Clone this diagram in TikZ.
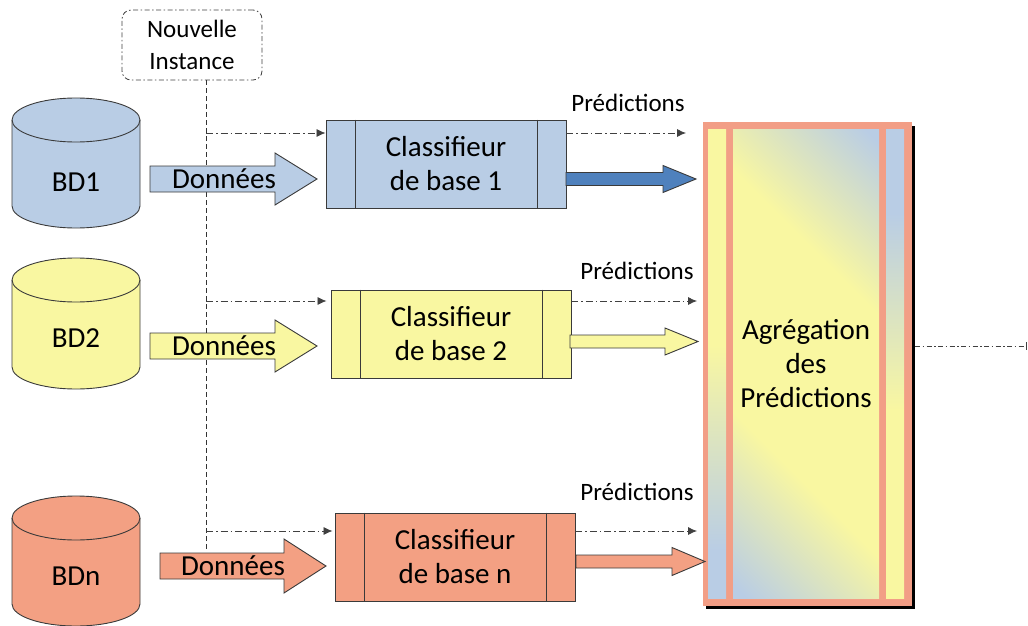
\documentclass[tikz,border=0pt]{standalone}
\usepackage{fontspec}
\setmainfont{Carlito}
\usetikzlibrary{arrows.meta,calc}

\definecolor{bdblue}{HTML}{B9CDE5}
\definecolor{bdyellow}{HTML}{F9F7A1}
\definecolor{bdsalmon}{HTML}{F3A083}
\definecolor{predblue}{HTML}{4F81BD}
\definecolor{edgegray}{HTML}{3A3A3A}
\definecolor{aggborder}{HTML}{F29E86}

% shadings of the aggregation block (the path box spans 25bp..75bp)
\pgfdeclareverticalshading{aggmain}{100bp}{color(0bp)=(bdblue); color(16bp)=(bdblue);
  color(36bp)=(bdyellow); color(64bp)=(bdyellow); color(84bp)=(bdblue); color(100bp)=(bdblue)}
\pgfdeclareverticalshading{aggleft}{100bp}{color(0bp)=(bdblue); color(30bp)=(bdblue);
  color(52bp)=(bdyellow); color(100bp)=(bdyellow)}
\pgfdeclareverticalshading{aggright}{100bp}{color(0bp)=(bdyellow); color(45bp)=(bdyellow);
  color(66bp)=(bdblue); color(100bp)=(bdblue)}

% database cylinder: top ellipse centre y, bottom ellipse centre y, fill colour
\newcommand{\dbcyl}[3]{%
  \fill[#3] (12,#1) -- (12,#2) arc[start angle=180,end angle=0,x radius=64,y radius=22]
    -- (140,#1) arc[start angle=0,end angle=-180,x radius=64,y radius=22] -- cycle;
  \draw[outline] (12,#1) -- (12,#2) arc[start angle=180,end angle=0,x radius=64,y radius=22] -- (140,#1);
  \draw[outline] (76,#1) ellipse[x radius=64,y radius=22];
}
% block arrow: start x, tip x, centre y, shaft half height, head half height, head length, style
\newcommand{\blockarrow}[7]{%
  \draw[#7] (#1,#3-#4) -- (#2-#6,#3-#4) -- (#2-#6,#3-#5) -- (#2,#3)
    -- (#2-#6,#3+#5) -- (#2-#6,#3+#4) -- (#1,#3+#4) -- cycle;
}

\tikzset{
  outline/.style={draw=edgegray, line width=0.9pt},
  txt/.style={font=\fontsize{29}{34}\selectfont, inner sep=0pt, align=center},
  predlabel/.style={font=\fontsize{25}{30}\selectfont, inner sep=0pt},
  classbox/.style={outline, minimum width=240pt, minimum height=88pt, inner sep=0pt,
    font=\fontsize{29}{34}\selectfont, align=center},
  flow/.style={draw=black!75, line width=0.8pt,
    dash pattern=on 7pt off 3pt on 1.5pt off 3pt,
    -{Latex[length=9pt,width=8pt]}},
  feed/.style={draw=black!80, line width=0.8pt, dash pattern=on 5pt off 3pt},
}

\begin{document}
\begin{tikzpicture}[x=1pt,y=-1pt]
\useasboundingbox (0,0) rectangle (1028,626);

% ---- new instance and its feed line
\node[draw=black!75, line width=0.8pt, dash pattern=on 5pt off 2.5pt on 1.5pt off 2.5pt,
  rounded corners=9pt, minimum width=140pt, minimum height=70pt, inner sep=0pt,
  align=center, font=\fontsize{25}{32}\selectfont] (inst) at (192,45) {Nouvelle\\Instance};
\coordinate (feedend) at (206,552);
\draw[feed] (inst.south -| feedend) -- (feedend);
\coordinate (f1) at (206,133);
\coordinate (f2) at (206,301);
\coordinate (f3) at (206,531);

% ---- databases
\dbcyl{120}{206}{bdblue}
\dbcyl{280}{367}{bdyellow}
\dbcyl{518}{604}{bdsalmon}
\node[txt] (bd1) at (76,182) {BD1};
\node[txt] (bd2) at (76,338) {BD2};
\node[txt] (bdn) at (76,576) {BDn};

% ---- base classifiers
\node[classbox, fill=bdblue]   (c1) at (446,164) {Classifieur\\de base 1};
\node[classbox, fill=bdyellow] (c2) at (451,334) {Classifieur\\de base 2};
\node[classbox, fill=bdsalmon] (c3) at (455,557) {Classifieur\\de base n};
\foreach \c in {c1,c2,c3}{
  \draw[outline] ([xshift=30pt]\c.north west) -- ([xshift=30pt]\c.south west);
  \draw[outline] ([xshift=-29pt]\c.north east) -- ([xshift=-29pt]\c.south east);
}

% ---- data arrows
\blockarrow{150}{317}{179}{13}{26}{42}{outline, fill=bdblue}
\blockarrow{150}{317}{346}{13}{26}{42}{outline, fill=bdyellow}
\blockarrow{160}{326}{566}{13}{27}{42}{outline, fill=bdsalmon}
\node[txt] (d1) at (224,179) {Données};
\node[txt] (d2) at (224,346) {Données};
\node[txt] (d3) at (233,566) {Données};

% ---- instance to classifiers
\draw[flow] (f1) -- (f1 -| c1.west);
\draw[flow] (f2) -- ([xshift=-4pt]f2 -| c2.west);
\draw[flow] (f3) -- ([xshift=-2pt]f3 -| c3.west);

% ---- aggregation block
\fill[black] (706,126) rectangle (915,609);
\node[fill=aggborder, minimum width=209pt, minimum height=484pt, inner sep=0pt] (agg) at (807.5,364) {};
\shade[shading=aggleft] (708,129) rectangle (726,598);
\shade[shading=aggmain, shading angle=-45] (733,129) rectangle (879,598);
\shade[shading=aggright] (886,129) rectangle (904,598);
\node[txt] (aggtxt) at (806,364) {Agrégation\\des\\Prédictions};

% ---- predictions
\coordinate (p1) at (686,133);
\coordinate (p2) at (697,301);
\coordinate (p3) at (697,531);
\draw[flow] (p1 -| c1.east) -- (p1);
\draw[flow] (p2 -| c2.east) -- (p2);
\draw[flow] (p3 -| c3.east) -- (p3);
\node[predlabel] (l1) at (628,103) {Prédictions};
\node[predlabel] (l2) at (637,271) {Prédictions};
\node[predlabel] (l3) at (637,492) {Prédictions};

\blockarrow{566}{696}{179}{6.5}{13.5}{33}{outline, fill=predblue}
\blockarrow{570}{698}{341.5}{6.5}{13.5}{33}{outline, fill=bdyellow}
\blockarrow{576}{705}{561.5}{6.5}{14}{33}{outline, fill=bdsalmon}

% ---- final output
\coordinate (out) at (1027,346);
\draw[draw=black!75, line width=0.8pt, dash pattern=on 5pt off 2.5pt on 1.5pt off 2.5pt,
  -{Bar[width=8pt,line width=1pt]}] (agg.east |- out) ++(3,0) -- (out);
\end{tikzpicture}
\end{document}
